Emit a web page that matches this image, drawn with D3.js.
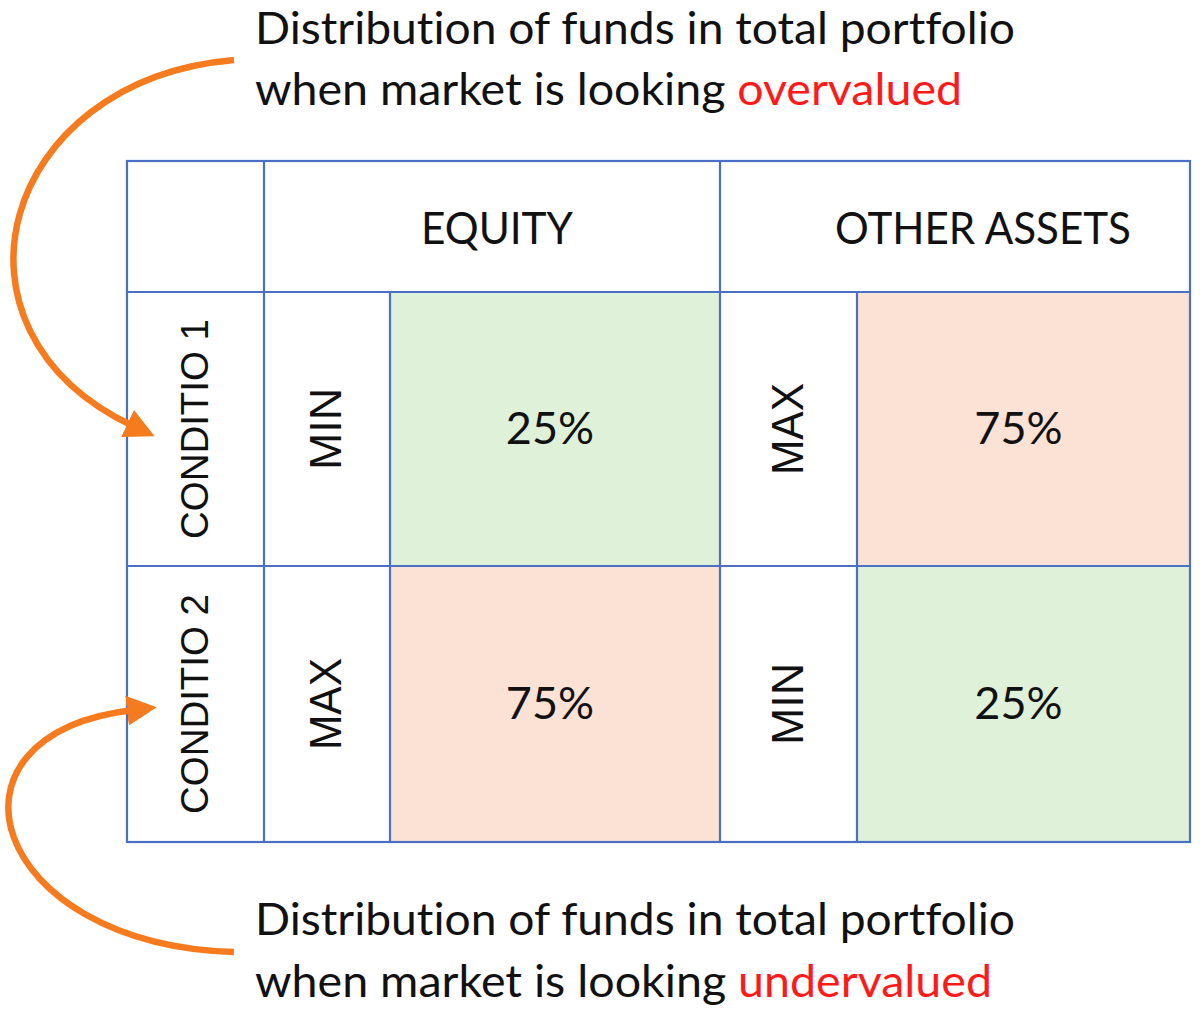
<!DOCTYPE html>
<html><head><meta charset="utf-8">
<script src="https://cdn.jsdelivr.net/npm/d3@7"></script>
<style>html,body{margin:0;padding:0;background:#fff;}svg{display:block;}text{font-variant-ligatures:none;}</style>
</head><body>
<svg id="c" width="1200" height="1015"></svg>
<script>
// ---- data ----
const assetClasses = ["EQUITY", "OTHER ASSETS"];
const conditions = ["CONDITIO 1", "CONDITIO 2"];
const equityLimits = ["MIN", "MAX"];
const equityShares = [25, 75];
const otherLimits = ["MAX", "MIN"];
const otherShares = [75, 25];
const captionStates = ["overvalued", "undervalued"];

// ---- layout ----
const svg = d3.select("#c");
const lineColor = "#4a6fc4";
const green = "#dff1d9", peach = "#fce2d4";
const colour = d3.scaleThreshold().domain([50]).range([green, peach]);
const sans = "Liberation Sans, Arial, sans-serif";
const calib = "Lato, 'Open Sans', sans-serif";

const x = d3.scaleOrdinal().domain(["cond","eqLim","eqVal","otLim","otVal","end"]).range([127,264,390,720,857,1190]);
const y = d3.scaleOrdinal().domain(["top","head", ...conditions]).range([161,292,566,842]);
const rowTop = c => c === conditions[0] ? y("head") : y(conditions[0]);
const rowBot = c => c === conditions[0] ? y(conditions[0]) : y(conditions[1]);

const rows = conditions.map((c,i) => ({c, i}));

const cells = [];
rows.forEach(r => {
  cells.push({row:r.c, x0:x("eqVal"), x1:x("otLim"), limX0:x("eqLim"), limit:equityLimits[r.i], v:equityShares[r.i]});
  cells.push({row:r.c, x0:x("otVal"), x1:x("end"), limX0:x("otLim"), limit:otherLimits[r.i], v:otherShares[r.i]});
});

svg.selectAll("rect.val").data(cells).join("rect")
  .attr("x", d=>d.x0).attr("y", d=>rowTop(d.row))
  .attr("width", d=>d.x1-d.x0).attr("height", d=>rowBot(d.row)-rowTop(d.row))
  .attr("fill", d=>colour(d.v));

svg.selectAll("text.val").data(cells).join("text")
  .attr("x", d=>(d.x0+d.x1)/2 - 5).attr("y", d=>(rowTop(d.row)+rowBot(d.row))/2 + 15)
  .attr("text-anchor","middle").attr("font-family", calib).attr("font-size", 45)
  .attr("fill","#111").text(d=>d.v+"%");

svg.selectAll("text.lim").data(cells).join("text")
  .attr("transform", d=>`translate(${(d.limX0+d.x0)/2+14},${(rowTop(d.row)+rowBot(d.row))/2}) rotate(-90)`)
  .attr("text-anchor","middle").attr("font-family", sans).attr("font-size", 44)
  .attr("fill","#111").attr("textLength", d=> d.limit==="MIN" ? 82 : 92).attr("lengthAdjust","spacingAndGlyphs")
  .text(d=>d.limit);

svg.selectAll("text.cond").data(rows).join("text")
  .attr("transform", d=>`translate(${(x("cond")+x("eqLim"))/2+12},${(rowTop(d.c)+rowBot(d.c))/2}) rotate(-90)`)
  .attr("text-anchor","middle").attr("font-family", sans).attr("font-size", 38)
  .attr("fill","#111").attr("textLength", 220).attr("lengthAdjust","spacingAndGlyphs")
  .text(d=>d.c);

const heads = [{t:assetClasses[0], x0:x("eqLim"), x1:x("otLim")},{t:assetClasses[1], x0:x("otLim"), x1:x("end")}];
svg.selectAll("text.head").data(heads).join("text")
  .attr("x", (d,i)=>(d.x0+d.x1)/2 + (i===0?5:28)).attr("y", y("top")+83)
  .attr("text-anchor","middle").attr("font-family", calib).attr("font-size", 44)
  .attr("fill","#111").attr("textLength",(d,i)=> i===0?152:296).attr("lengthAdjust","spacingAndGlyphs")
  .text(d=>d.t);

const g = svg.append("g").attr("stroke", lineColor).attr("stroke-width", 2.2).attr("fill","none");
const L = (x1,y1,x2,y2)=>g.append("line").attr("x1",x1).attr("y1",y1).attr("x2",x2).attr("y2",y2);
g.append("rect").attr("x",x("cond")).attr("y",y("top")).attr("width",x("end")-x("cond")).attr("height",y(conditions[1])-y("top"));
L(x("cond"), y("head"), x("end"), y("head"));
L(x("cond"), y(conditions[0]), x("end"), y(conditions[0]));
L(x("eqLim"), y("top"), x("eqLim"), y(conditions[1]));
L(x("otLim"), y("top"), x("otLim"), y(conditions[1]));
L(x("eqVal"), y("head"), x("eqVal"), y(conditions[1]));
L(x("otVal"), y("head"), x("otVal"), y(conditions[1]));

const orange = "#f57b1e";
const defs = svg.append("defs");
defs.append("marker").attr("id","ah").attr("viewBox","0 0 10 10").attr("refX",2).attr("refY",5)
  .attr("markerWidth",4.6).attr("markerHeight",4.6).attr("orient","auto")
  .append("path").attr("d","M0,0 L10,5 L0,10 Z").attr("fill",orange);
const arc = d3.path();
arc.moveTo(234,60); arc.bezierCurveTo(0,80,-70,330,133,426);
svg.append("path").attr("d",arc.toString()).attr("fill","none").attr("stroke",orange).attr("stroke-width",6.5).attr("marker-end","url(#ah)");
const arc2 = d3.path();
arc2.moveTo(234,952); arc2.bezierCurveTo(-10,945,-75,735,133,710);
svg.append("path").attr("d",arc2.toString()).attr("fill","none").attr("stroke",orange).attr("stroke-width",6.5).attr("marker-end","url(#ah)");

const caps = [{y1:44, y2:105, w1:760, w2:707}, {y1:935, y2:997, w1:760, w2:737}];
caps.forEach((c,i)=>{
  svg.append("text").attr("x",255).attr("y",c.y1).attr("font-family",calib).attr("font-size",44).attr("fill","#111")
    .attr("textLength",c.w1).attr("lengthAdjust","spacingAndGlyphs").text("Distribution of funds in total portfolio");
  const t = svg.append("text").attr("x",255).attr("y",c.y2).attr("font-family",calib).attr("font-size",44).attr("fill","#111")
    .attr("textLength",c.w2).attr("lengthAdjust","spacingAndGlyphs");
  t.append("tspan").text("when market is looking ");
  t.append("tspan").attr("fill","#ff1a1a").text(captionStates[i]);
});
</script>
</body></html>
